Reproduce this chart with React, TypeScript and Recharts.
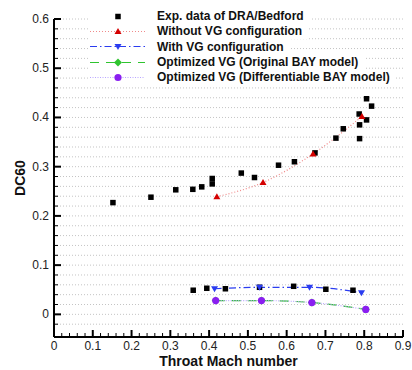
import React from "react";
import { ComposedChart, Line, Scatter, XAxis, YAxis, CartesianGrid, Label } from "recharts";

// Exp. data of DRA/Bedford
const EXP_MACH = [
  0.152, 0.25, 0.314, 0.358, 0.381, 0.408, 0.408, 0.483, 0.517, 0.579,
  0.62, 0.673, 0.727, 0.746, 0.787, 0.788, 0.788, 0.806, 0.806, 0.819,
  0.359, 0.394, 0.442, 0.53, 0.618, 0.701, 0.771,
];
const EXP_DC60 = [
  0.227, 0.238, 0.253, 0.254, 0.259, 0.265, 0.276, 0.287, 0.278, 0.303,
  0.31, 0.328, 0.358, 0.377, 0.407, 0.385, 0.357, 0.395, 0.438, 0.423,
  0.049, 0.053, 0.052, 0.055, 0.057, 0.051, 0.049,
];

const NOVG_MACH = [0.42, 0.539, 0.668, 0.794];
const NOVG_DC60 = [0.239, 0.268, 0.326, 0.402];

const VG_MACH = [0.414, 0.53, 0.659, 0.793];
const VG_DC60 = [0.052, 0.055, 0.055, 0.044];

const OPT_MACH = [0.417, 0.535, 0.665, 0.804];
const OPT_ORIG_DC60 = [0.028, 0.028, 0.024, 0.01];
const OPT_DIFF_DC60 = [0.028, 0.028, 0.024, 0.01];

const LEGEND_LABELS = [
  "Exp. data of DRA/Bedford",
  "Without VG configuration",
  "With VG configuration",
  "Optimized VG (Original BAY model)",
  "Optimized VG (Differentiable BAY model)",
];

const FONT = '"Liberation Sans", Arial, sans-serif';

const RED = "#d40000";
const RED_LINE = "#f08a8a";
const BLUE = "#2a3cf0";
const GREEN = "#2fc42f";
const PURPLE = "#8a1ff0";
const PURPLE_LINE = "#b9a6ff";

const pts = (xs: number[], ys: number[]) => xs.map((x, i) => ({ x, y: ys[i] }));

// ticks every 0.02, labelled every 0.1
const steps = (lo: number, hi: number) => {
  const out: number[] = [];
  for (let i = lo; i <= hi; i++) out.push(i / 50);
  return out;
};
const X_TICKS = steps(0, 45);
const Y_TICKS = steps(-1, 30);
const isMajor = (v: number) => Math.abs(v * 10 - Math.round(v * 10)) < 1e-6;
const fmt = (v: number) => (Math.abs(v) < 1e-9 ? "0" : v.toFixed(1));

function XTick({ x, y, payload }: any) {
  const v = payload.value;
  const major = isMajor(v);
  return (
    <g>
      <line x1={x} x2={x} y1={y} y2={y - (major ? 7 : 4)} stroke="#000" strokeWidth={major ? 2 : 1} />
      {major && (
        <text x={x} y={y + 13} textAnchor="middle" fontSize={12} fill="#222" fontFamily={FONT}>
          {fmt(v)}
        </text>
      )}
    </g>
  );
}

function YTick({ x, y, payload }: any) {
  const v = payload.value;
  const major = isMajor(v);
  return (
    <g>
      <line x1={x} x2={x + (major ? 7 : 4)} y1={y} y2={y} stroke="#000" strokeWidth={major ? 2 : 1} />
      {major && (
        <text x={x - 5} y={y + 4} textAnchor="end" fontSize={12} fill="#222" fontFamily={FONT}>
          {fmt(v)}
        </text>
      )}
    </g>
  );
}

const square = (p: any) => (
  <rect x={p.cx - 2.75} y={p.cy - 2.75} width={5.5} height={5.5} fill="#000" />
);
const triUp = (color: string) => (p: any) =>
  <path key={`u${p.index}`} d={`M${p.cx},${p.cy - 3.5} L${p.cx + 3.5},${p.cy + 2.5} L${p.cx - 3.5},${p.cy + 2.5} Z`} fill={color} />;
const triDown = (color: string) => (p: any) =>
  <path key={`d${p.index}`} d={`M${p.cx},${p.cy + 3.5} L${p.cx + 3.5},${p.cy - 2.5} L${p.cx - 3.5},${p.cy - 2.5} Z`} fill={color} />;
const diamond = (color: string) => (p: any) =>
  <path key={`g${p.index}`} d={`M${p.cx},${p.cy - 4} L${p.cx + 4},${p.cy} L${p.cx},${p.cy + 4} L${p.cx - 4},${p.cy} Z`} fill={color} />;
const circle = (color: string) => (p: any) =>
  <circle key={`c${p.index}`} cx={p.cx} cy={p.cy} r={3.6} fill={color} />;

function LegendKey({ idx }: { idx: number }) {
  const cy = 7.5;
  const line = (stroke: string, dash: string) => (
    <line x1={2} x2={57} y1={cy} y2={cy} stroke={stroke} strokeWidth={1.2} strokeDasharray={dash} />
  );
  const p = { cx: 30, cy, index: 0 };
  return (
    <svg width={69} height={15} style={{ display: "block" }}>
      {idx === 0 && square(p)}
      {idx === 1 && <>{line(RED_LINE, "1 2")}{triUp(RED)(p)}</>}
      {idx === 2 && <>{line(BLUE, "7 3 1.5 3")}{triDown(BLUE)(p)}</>}
      {idx === 3 && <>{line(GREEN, "9 7")}{diamond(GREEN)(p)}</>}
      {idx === 4 && <>{line(PURPLE_LINE, "1 1.5")}{circle(PURPLE)(p)}</>}
    </svg>
  );
}

export default function App() {
  return (
    <div style={{ position: "absolute", left: 0, top: 0, width: 412, height: 370, background: "#fff" }}>
      <ComposedChart width={412} height={370} margin={{ top: 19, right: 9, bottom: 3, left: 0 }}>
        <CartesianGrid horizontal vertical={false} stroke="#c4c4c4" strokeDasharray="1 2" />
        <XAxis
          type="number"
          dataKey="x"
          domain={[0, 0.9]}
          ticks={X_TICKS}
          interval={0}
          allowDataOverflow
          height={30}
          tickSize={0}
          tickMargin={0}
          tickLine={false}
          tick={<XTick />}
          axisLine={{ stroke: "#000", strokeWidth: 2 }}
        >
          <Label
            content={({ viewBox }: any) => (
              <text
                x={viewBox.x + viewBox.width / 2}
                y={viewBox.y + 29}
                textAnchor="middle"
                fontSize={14}
                fontWeight="bold"
                fontFamily={FONT}
                fill="#111"
              >
                Throat Mach number
              </text>
            )}
          />
        </XAxis>
        <YAxis
          type="number"
          dataKey="y"
          domain={[-0.046, 0.6]}
          ticks={Y_TICKS}
          interval={0}
          allowDataOverflow
          width={54}
          tickSize={0}
          tickMargin={0}
          tickLine={false}
          tick={<YTick />}
          axisLine={{ stroke: "#000", strokeWidth: 2 }}
        >
          <Label
            content={({ viewBox }: any) => {
              const cx = viewBox.x + 20;
              const cy = viewBox.y + viewBox.height / 2;
              return (
                <text
                  x={cx}
                  y={cy}
                  transform={`rotate(-90 ${cx} ${cy})`}
                  textAnchor="middle"
                  dominantBaseline="central"
                  fontSize={14}
                  fontWeight="bold"
                  fontFamily={FONT}
                  fill="#111"
                >
                  DC60
                </text>
              );
            }}
          />
        </YAxis>
        <Scatter data={pts(EXP_MACH, EXP_DC60)} shape={square} isAnimationActive={false} />
        <Line
          data={pts(NOVG_MACH, NOVG_DC60)}
          dataKey="y"
          type="monotone"
          stroke={RED_LINE}
          strokeWidth={1.2}
          strokeDasharray="1 2"
          dot={triUp(RED)}
          activeDot={false}
          isAnimationActive={false}
        />
        <Line
          data={pts(VG_MACH, VG_DC60)}
          dataKey="y"
          type="monotone"
          stroke={BLUE}
          strokeWidth={1.2}
          strokeDasharray="7 3 1.5 3"
          dot={triDown(BLUE)}
          activeDot={false}
          isAnimationActive={false}
        />
        <Line
          data={pts(OPT_MACH, OPT_ORIG_DC60)}
          dataKey="y"
          type="monotone"
          stroke={GREEN}
          strokeWidth={1.2}
          strokeDasharray="9 7"
          dot={diamond(GREEN)}
          activeDot={false}
          isAnimationActive={false}
        />
        <Line
          data={pts(OPT_MACH, OPT_DIFF_DC60)}
          dataKey="y"
          type="monotone"
          stroke={PURPLE_LINE}
          strokeWidth={1.2}
          strokeDasharray="1 1.5"
          dot={circle(PURPLE)}
          activeDot={false}
          isAnimationActive={false}
        />
      </ComposedChart>
      <div style={{ position: "absolute", left: 88, top: 8.5 }}>
        {LEGEND_LABELS.map((label, i) => (
          <div
            key={label}
            style={{
              display: "flex",
              alignItems: "center",
              height: 15.3,
              width: "fit-content",
              background: "#fff",
              paddingRight: 6,
            }}
          >
            <LegendKey idx={i} />
            <span style={{ fontFamily: FONT, fontWeight: "bold", fontSize: 12, color: "#111", whiteSpace: "nowrap" }}>
              {label}
            </span>
          </div>
        ))}
      </div>
    </div>
  );
}
